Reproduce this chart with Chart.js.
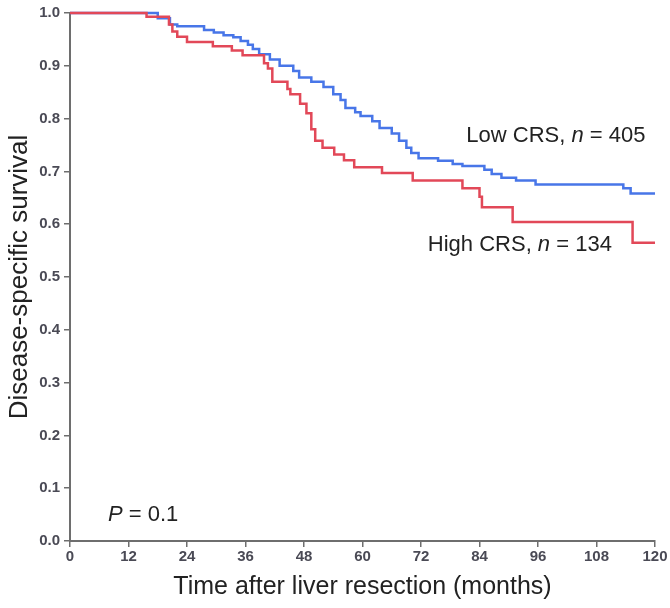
<!DOCTYPE html>
<html>
<head>
<meta charset="utf-8">
<script src="https://cdn.jsdelivr.net/npm/chart.js@4/dist/chart.umd.min.js"></script>
<style>
  html, body { margin: 0; padding: 0; background: #fff; }
  #wrap { width: 670px; height: 608px; position: relative; }
</style>
</head>
<body>
<div id="wrap"><canvas id="km-chart"></canvas></div>
<script>
// Kaplan-Meier estimates (months, survival after the step)
const lowMonths = [0, 18, 20.5, 22, 27.5, 29.5, 31.5, 33.5, 35, 36.5, 37.5, 38.8, 41, 43, 45.8, 47, 49.5, 52, 54, 55.5, 56.5, 58.5, 59.6, 62, 63.5, 66, 67.5, 69, 70, 71.5, 75.5, 78.5, 80.5, 85, 86.5, 88.5, 91.5, 95.5, 113.5, 115, 120];
const lowSurv   = [1.0, 0.99, 0.978, 0.975, 0.968, 0.963, 0.958, 0.954, 0.947, 0.94, 0.932, 0.922, 0.912, 0.9, 0.89, 0.878, 0.87, 0.86, 0.846, 0.835, 0.82, 0.812, 0.805, 0.795, 0.782, 0.772, 0.758, 0.745, 0.735, 0.725, 0.72, 0.714, 0.71, 0.703, 0.695, 0.688, 0.683, 0.675, 0.668, 0.658, 0.658];

const highMonths = [0, 15.7, 20.3, 21, 22, 24, 29.3, 33.2, 35.4, 39.8, 40.6, 41.5, 44.6, 45.2, 47.2, 48.5, 49.5, 50.3, 51.8, 54.2, 56.2, 58.3, 64, 70.3, 80.5, 84, 84.5, 90.8, 115.4, 120];
const highSurv   = [1.0, 0.993, 0.978, 0.965, 0.955, 0.945, 0.937, 0.929, 0.92, 0.905, 0.895, 0.87, 0.856, 0.846, 0.828, 0.81, 0.78, 0.758, 0.745, 0.732, 0.721, 0.708, 0.697, 0.683, 0.668, 0.652, 0.632, 0.604, 0.565, 0.565];

const xTicks = [0, 12, 24, 36, 48, 60, 72, 84, 96, 108, 120];

// text notes placed in data units
const notes = [
    { x: 81.3, y: 0.767, parts: [['Low CRS, ', false], ['n', true], [' = 405', false]] },
    { x: 73.4, y: 0.560, parts: [['High CRS, ', false], ['n', true], [' = 134', false]] },
    { x: 7.8, y: 0.049, parts: [['P', true], [' = 0.1', false]] }
];

function toPoints(xs, ys) {
    return xs.map((x, i) => ({ x: x, y: ys[i] }));
}

const notePlugin = {
    id: 'notes',
    afterDatasetsDraw(chart) {
        const ctx = chart.ctx;
        const xs = chart.scales.x, ys = chart.scales.y;
        ctx.save();
        ctx.fillStyle = '#222';
        ctx.textBaseline = 'middle';
        ctx.textAlign = 'left';
        notes.forEach(note => {
            let px = xs.getPixelForValue(note.x);
            const py = ys.getPixelForValue(note.y);
            note.parts.forEach(([txt, italic]) => {
                ctx.font = (italic ? 'italic ' : '') + '22px "Liberation Sans", Arial, sans-serif';
                ctx.fillText(txt, px, py);
                px += ctx.measureText(txt).width;
            });
        });
        ctx.restore();
    }
};

const axisColor = '#6e6e6e';
const tickFont = { family: '"Liberation Sans", Arial, sans-serif', size: 15, weight: 'bold' };

new Chart(document.getElementById('km-chart'), {
    type: 'line',
    data: {
        datasets: [
            {
                label: 'High CRS',
                data: toPoints(highMonths, highSurv),
                borderColor: 'rgb(226, 72, 88)',
                borderWidth: 2.5,
                stepped: 'before',
                pointRadius: 0,
                clip: false
            },
            {
                label: 'Low CRS',
                data: toPoints(lowMonths, lowSurv),
                borderColor: 'rgb(72, 118, 232)',
                borderWidth: 2.5,
                stepped: 'before',
                pointRadius: 0,
                clip: false
            }
        ]
    },
    options: {
        responsive: true,
        maintainAspectRatio: false,
        devicePixelRatio: 1,
        animation: false,
        layout: { padding: { left: 4, right: 15, top: 12, bottom: 6 } },
        plugins: {
            legend: { display: false },
            tooltip: { enabled: false }
        },
        scales: {
            x: {
                type: 'linear',
                min: 0,
                max: 120,
                afterBuildTicks: scale => { scale.ticks = xTicks.map(v => ({ value: v })); },
                afterFit: scale => { scale.height = 61; },
                ticks: { font: tickFont, color: '#4a4a55', padding: 1, maxRotation: 0 },
                grid: { drawOnChartArea: false, tickLength: 6, color: axisColor, lineWidth: 1.5 },
                border: { color: axisColor, width: 2 },
                title: {
                    display: true,
                    text: 'Time after liver resection (months)',
                    font: { family: '"Liberation Sans", Arial, sans-serif', size: 25 },
                    color: '#222',
                    padding: { top: 0, bottom: 0 }
                }
            },
            y: {
                min: 0,
                max: 1,
                afterFit: scale => { scale.width = 66; },
                ticks: {
                    stepSize: 0.1,
                    font: tickFont,
                    color: '#4a4a55',
                    padding: 4,
                    callback: v => v.toFixed(1)
                },
                grid: { drawOnChartArea: false, tickLength: 6, color: axisColor, lineWidth: 1.5 },
                border: { color: axisColor, width: 2 },
                title: {
                    display: true,
                    text: 'Disease-specific survival',
                    font: { family: '"Liberation Sans", Arial, sans-serif', size: 26 },
                    color: '#222',
                    padding: { top: 0, bottom: 0 }
                }
            }
        }
    },
    plugins: [notePlugin]
});
</script>
</body>
</html>
